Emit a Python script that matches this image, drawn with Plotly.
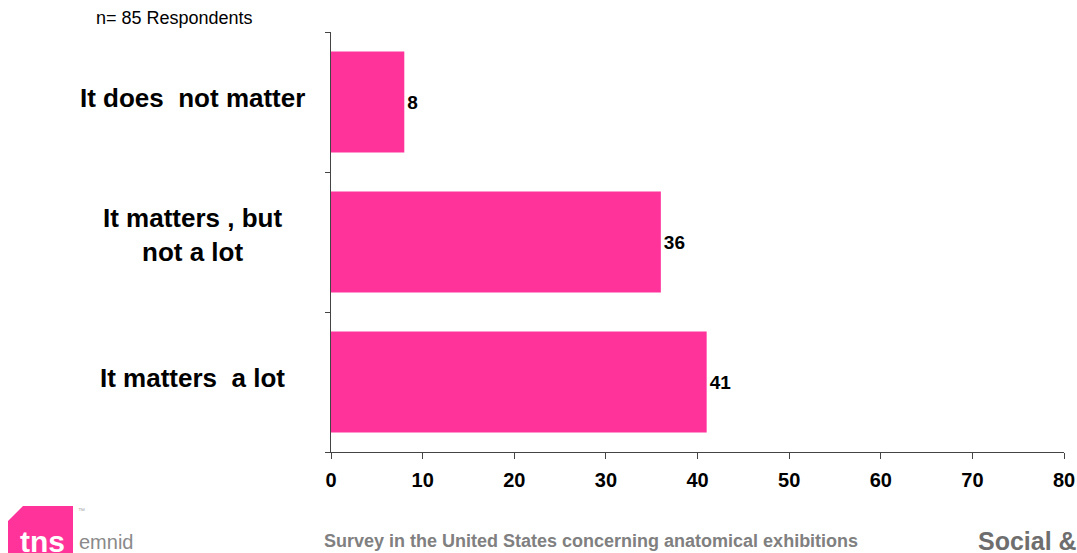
import plotly.graph_objects as go

categories = ["It does  not matter", "It matters , but<br>not a lot", "It matters  a lot"]
values = [8, 36, 41]
x_ticks = [0, 10, 20, 30, 40, 50, 60, 70, 80]

W, H = 1077, 553
L, R, T, B = 331, 1064, 32, 452
FONT = "Arial, Liberation Sans, sans-serif"
PINK = "#FF3399"

def px(x):
    return (x - L) / (R - L)

def py(y):
    return (B - y) / (B - T)

fig = go.Figure(go.Bar(
    y=categories, x=values, orientation="h",
    marker=dict(color=PINK, line=dict(width=0)),
    text=["<b>%d</b>" % v for v in values], textposition="outside",
    textfont=dict(family=FONT, size=19, color="#000000"),
    cliponaxis=False, hoverinfo="skip",
))

annotations = []
for c in categories:
    annotations.append(dict(
        x=px(192), xref="paper", y=c, yref="y", text="<b>" + c + "</b>",
        showarrow=False, xanchor="center", yanchor="middle",
        yshift=7 if "<br>" in c else 4,
        font=dict(family=FONT, size=26, color="#000000"),
    ))
annotations += [
    dict(x=px(94), y=py(18), xref="paper", yref="paper", text="n= 85 Respondents",
         showarrow=False, xanchor="left", yanchor="middle",
         font=dict(family=FONT, size=18, color="#000000")),
    dict(x=px(591), y=py(541), xref="paper", yref="paper",
         text="<b>Survey in the United States concerning anatomical exhibitions</b>",
         showarrow=False, xanchor="center", yanchor="middle",
         font=dict(family=FONT, size=18, color="#808080")),
    dict(x=px(976), y=py(541), xref="paper", yref="paper", text="<b>Social &</b>",
         showarrow=False, xanchor="left", yanchor="middle",
         font=dict(family=FONT, size=25, color="#6E6E6E")),
    dict(x=px(42), y=py(541), xref="paper", yref="paper", text="<b>tns</b>",
         showarrow=False, xanchor="center", yanchor="middle",
         font=dict(family=FONT, size=30, color="#FFFFFF")),
    dict(x=px(77), y=py(542), xref="paper", yref="paper", text="emnid",
         showarrow=False, xanchor="left", yanchor="middle",
         font=dict(family=FONT, size=20, color="#8A8A8A")),
    dict(x=px(76), y=py(510), xref="paper", yref="paper", text="™",
         showarrow=False, xanchor="left", yanchor="middle",
         font=dict(family=FONT, size=7, color="#AAAAAA")),
]

logo_path = "M {x0},{y0} L {x1},{y0} L {x1},{y2} L {x3},{y3} L {x3},{y4} Z".format(
    x0=px(23), y0=py(506), x1=px(73), y2=py(553), x3=px(8), y3=py(553), y4=py(521))

fig.update_layout(
    width=W, height=H,
    margin=dict(l=L, r=W - R, t=T, b=H - B, pad=0, autoexpand=False),
    paper_bgcolor="#FFFFFF", plot_bgcolor="#FFFFFF",
    showlegend=False, bargap=0.28,
    font=dict(family=FONT),
    xaxis=dict(range=[0, 80], tickvals=x_ticks, ticktext=["<b>%d</b>" % t for t in x_ticks],
               ticks="outside", ticklen=6, tickcolor="#444444", tickwidth=1,
               showline=True, linecolor="#444444", linewidth=1, showgrid=False, zeroline=False,
               tickfont=dict(family=FONT, size=20, color="#000000"),
               ticklabelstandoff=4, automargin=False, fixedrange=True),
    yaxis=dict(categoryorder="array", categoryarray=categories[::-1],
               range=[-0.5, 2.5], tickson="boundaries",
               ticks="outside", ticklen=5, tickcolor="#444444", tickwidth=1,
               showline=True, linecolor="#444444", linewidth=1, showgrid=False,
               showticklabels=False, zeroline=False, automargin=False, fixedrange=True),
    annotations=annotations,
    shapes=[dict(type="path", path=logo_path, xref="paper", yref="paper",
                 fillcolor=PINK, line=dict(width=0), layer="below")],
)

fig.write_html("out.html", config={"displayModeBar": False},
               post_script="document.body.style.margin='0';document.body.style.overflow='hidden';")
